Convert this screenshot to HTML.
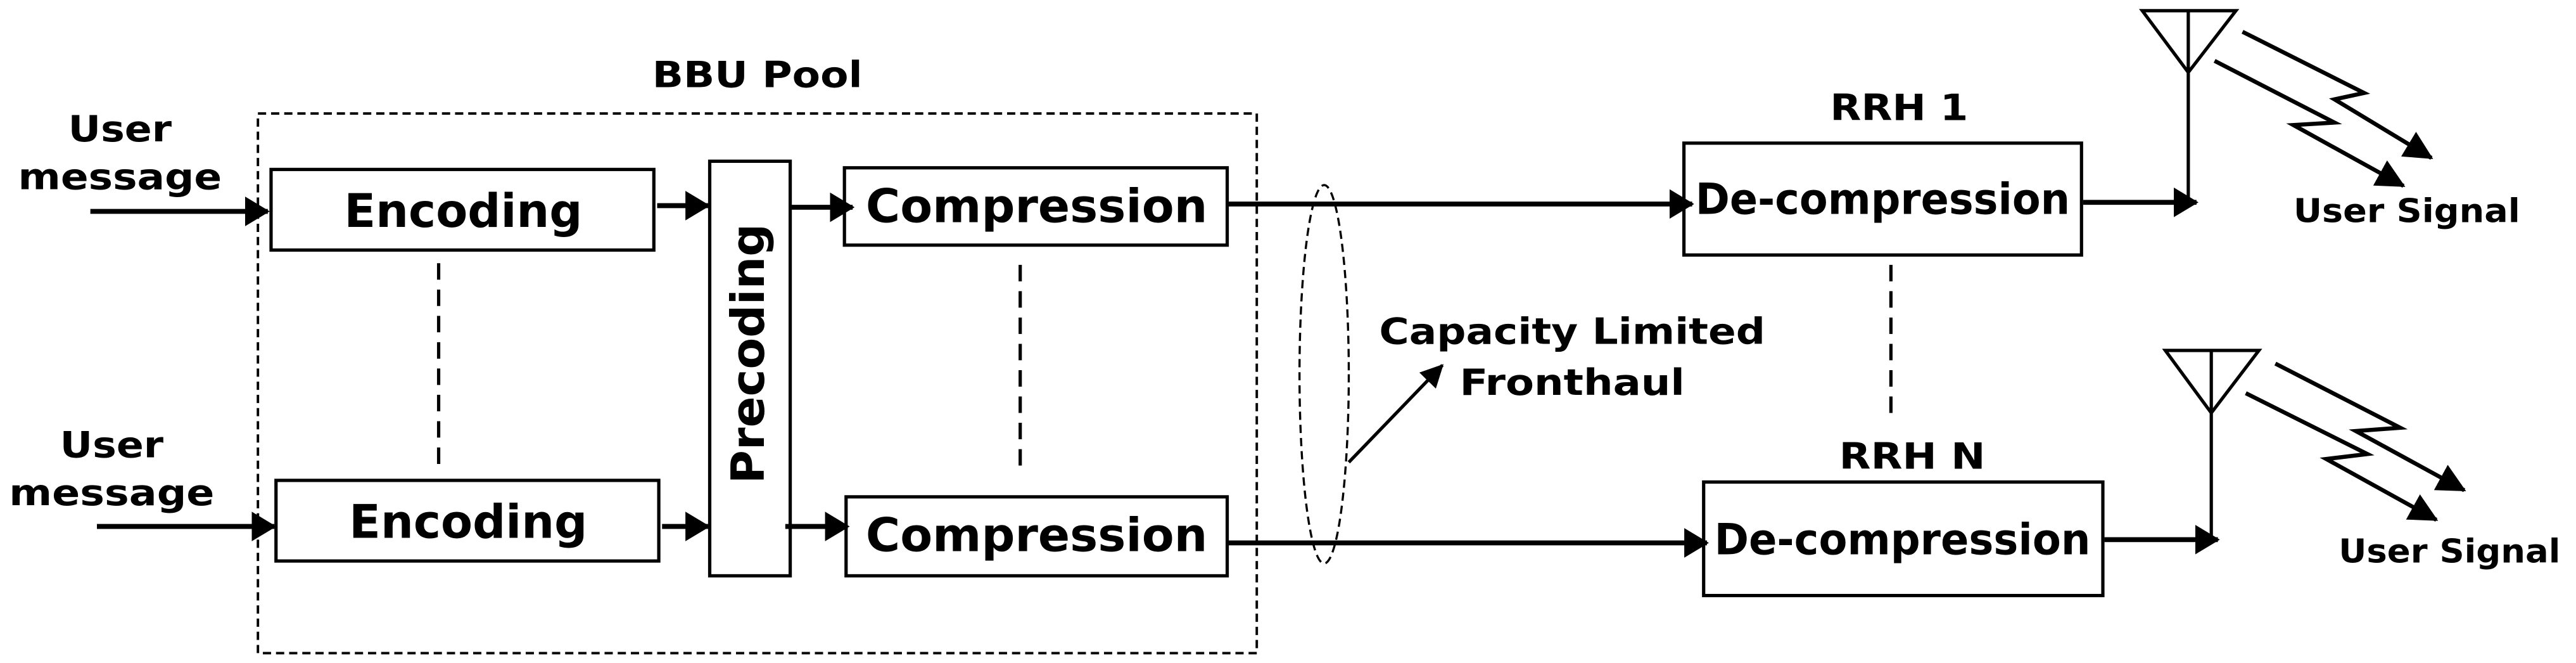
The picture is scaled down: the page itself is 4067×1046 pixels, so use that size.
<!DOCTYPE html>
<html><head><meta charset="utf-8"><style>
html,body{margin:0;padding:0;background:#fff;}
svg{display:block;}
text{font-family:"DejaVu Sans","Liberation Sans",sans-serif;font-weight:bold;font-stretch:condensed;fill:#000;}
</style></head><body>
<svg width="4067" height="1046" viewBox="0 0 1568 403" preserveAspectRatio="none" xmlns="http://www.w3.org/2000/svg">
<defs>
<marker id="ah" markerWidth="5" markerHeight="6" refX="4.6" refY="3" orient="auto" markerUnits="strokeWidth">
<path d="M0,0 L5,3 L0,6 z" fill="#000"/></marker>
<marker id="ah2" markerWidth="7" markerHeight="7" refX="6.5" refY="3.5" orient="auto" markerUnits="strokeWidth">
<path d="M0,0 L7,3.5 L0,7 z" fill="#000"/></marker>
</defs>
<text x="461" y="53" font-size="22" text-anchor="middle" textLength="128" lengthAdjust="spacingAndGlyphs">BBU Pool</text>
<rect x="157" y="69" width="608" height="328" fill="none" stroke="#000" stroke-width="1.5" stroke-dasharray="5,3"/>
<text x="73" y="86" font-size="22" text-anchor="middle" textLength="63" lengthAdjust="spacingAndGlyphs">User</text>
<text x="73" y="115" font-size="22" text-anchor="middle" textLength="124" lengthAdjust="spacingAndGlyphs">message</text>
<text x="68" y="278" font-size="22" text-anchor="middle" textLength="63" lengthAdjust="spacingAndGlyphs">User</text>
<text x="68" y="307" font-size="22" text-anchor="middle" textLength="125" lengthAdjust="spacingAndGlyphs">message</text>
<g stroke="#000" stroke-width="3" fill="none">
<line x1="55" y1="128.5" x2="163" y2="128.5" marker-end="url(#ah)"/>
<line x1="59" y1="320" x2="167" y2="320" marker-end="url(#ah)"/>
<line x1="400" y1="125" x2="431" y2="125" marker-end="url(#ah)"/>
<line x1="403" y1="320" x2="431" y2="320" marker-end="url(#ah)"/>
<line x1="481" y1="126" x2="519" y2="126" marker-end="url(#ah)"/>
<line x1="478" y1="320" x2="516" y2="320" marker-end="url(#ah)"/>
<line x1="747" y1="124" x2="1030" y2="124" marker-end="url(#ah)"/>
<line x1="747" y1="330" x2="1039" y2="330" marker-end="url(#ah)"/>
<line x1="1268" y1="123" x2="1337" y2="123" marker-end="url(#ah)"/>
<line x1="1281" y1="328" x2="1350" y2="328" marker-end="url(#ah)"/>
</g>
<g fill="none" stroke="#000" stroke-width="2">
<rect x="165" y="103" width="233" height="49"/>
<rect x="168" y="292" width="233" height="49"/>
<rect x="432" y="98" width="49" height="252"/>
<rect x="514" y="102" width="233" height="47"/>
<rect x="515" y="302" width="232" height="48"/>
<rect x="1025" y="87" width="242" height="68"/>
<rect x="1037" y="293" width="243" height="69"/>
</g>
<text x="282" y="138" font-size="28" text-anchor="middle" textLength="145" lengthAdjust="spacingAndGlyphs">Encoding</text>
<text x="285" y="327" font-size="28" text-anchor="middle" textLength="145" lengthAdjust="spacingAndGlyphs">Encoding</text>
<text x="631" y="135" font-size="28" text-anchor="middle" textLength="208" lengthAdjust="spacingAndGlyphs">Compression</text>
<text x="631" y="335" font-size="28" text-anchor="middle" textLength="208" lengthAdjust="spacingAndGlyphs">Compression</text>
<text transform="translate(465,215) rotate(-90)" x="0" y="0" font-size="28" text-anchor="middle" textLength="158" lengthAdjust="spacingAndGlyphs" style="font-stretch:normal">Precoding</text>
<g stroke="#000" stroke-width="2" stroke-dasharray="10,6">
<line x1="267" y1="160" x2="267" y2="285"/>
<line x1="621" y1="161" x2="621" y2="286"/>
<line x1="1151" y1="161" x2="1151" y2="254"/>
</g>
<ellipse cx="806" cy="227.5" rx="15" ry="115" fill="none" stroke="#000" stroke-width="1.3" stroke-dasharray="5,3"/>
<line x1="821" y1="281" x2="878" y2="222" stroke="#000" stroke-width="2" marker-end="url(#ah2)"/>
<text x="957" y="209" font-size="22" text-anchor="middle" textLength="235" lengthAdjust="spacingAndGlyphs">Capacity Limited</text>
<text x="957" y="240" font-size="22" text-anchor="middle" textLength="137" lengthAdjust="spacingAndGlyphs">Fronthaul</text>
<text x="1156" y="73" font-size="22" text-anchor="middle" textLength="84" lengthAdjust="spacingAndGlyphs">RRH 1</text>
<text x="1164" y="285" font-size="22" text-anchor="middle" textLength="89" lengthAdjust="spacingAndGlyphs">RRH N</text>
<text x="1146" y="130" font-size="26" text-anchor="middle" textLength="228" lengthAdjust="spacingAndGlyphs">De-compression</text>
<text x="1158" y="337" font-size="26" text-anchor="middle" textLength="229" lengthAdjust="spacingAndGlyphs">De-compression</text>
<g fill="none" stroke="#000" stroke-width="2">
<path d="M1304,6.5 L1361,6.5 L1332,44 Z M1332,6.5 L1332,123"/>
<path d="M1318,213 L1375,213 L1346,251 Z M1346,213 L1346,329"/>
</g>
<g fill="none" stroke="#000" stroke-width="2.5">
<polyline points="1365,19.3 1439,56.5 1421,60.4 1480,96" marker-end="url(#ah2)"/>
<polyline points="1348,37 1421,74.5 1396,76 1463,113" marker-end="url(#ah2)"/>
<polyline points="1385,221 1461,260 1434,262 1500,298" marker-end="url(#ah2)"/>
<polyline points="1367,239 1441,276 1416,279 1483,316" marker-end="url(#ah2)"/>
</g>
<text x="1465" y="135" font-size="20" text-anchor="middle" textLength="138" lengthAdjust="spacingAndGlyphs">User Signal</text>
<text x="1491" y="342" font-size="20" text-anchor="middle" textLength="135" lengthAdjust="spacingAndGlyphs">User Signal</text>
</svg>
</body></html>
